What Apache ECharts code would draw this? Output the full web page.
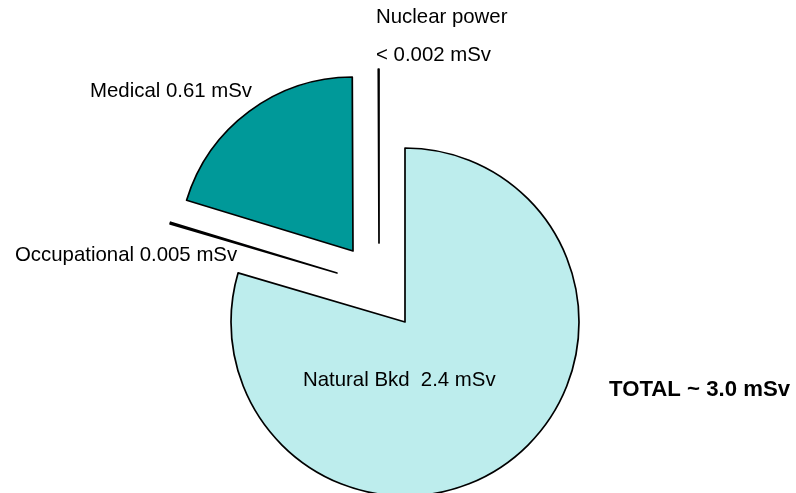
<!DOCTYPE html>
<html>
<head>
<meta charset="utf-8">
<script src="https://cdn.jsdelivr.net/npm/echarts@6/dist/echarts.min.js"></script>
<style>
html,body{margin:0;padding:0;background:#fff;}
#c{width:796px;height:493px;}
</style>
</head>
<body>
<div id="c"></div>
<script>
// Data (mSv)
var categories = ['Natural Bkd', 'Occupational', 'Medical', 'Nuclear power'];
var values = [2.4, 0.005, 0.61, 0.002];
var valueLabels = ['2.4 mSv', '0.005 mSv', '0.61 mSv', '< 0.002 mSv'];
var totalLabel = 'TOTAL ~ 3.0 mSv';

var colors = ['#BDEDED', '#2E3192', '#009999', '#FFFFFF'];
// each slice is exploded separately (layout only)
var centers = [[405, 322], [337, 273], [353, 251], [379, 243]];
var radius = 174;

var chart = echarts.init(document.getElementById('c'), null, {renderer: 'canvas'});

var series = categories.map(function (cat, k) {
  return {
    type: 'pie',
    center: centers[k],
    radius: radius,
    startAngle: 90,
    clockwise: true,
    silent: true,
    animation: false,
    avoidLabelOverlap: false,
    z: 2,
    label: {show: false},
    labelLine: {show: false},
    emphasis: {disabled: true},
    data: categories.map(function (n, i) {
      return {
        name: n,
        value: values[i],
        itemStyle: i === k
          ? {color: colors[i], borderColor: '#000', borderWidth: 1.7, borderJoin: 'round'}
          : {color: 'rgba(0,0,0,0)', borderWidth: 0}
      };
    })
  };
});

var font = '"Liberation Sans", Arial, sans-serif';
function txt(x, y, s, opts) {
  opts = opts || {};
  return {
    type: 'text', x: x, y: y, z: 100, silent: true,
    style: {
      text: s, fill: '#000', font: (opts.bold ? 'bold ' : '') + (opts.size || 20.4) + 'px ' + font,
      textAlign: 'left', textVerticalAlign: 'middle'
    }
  };
}

chart.setOption({
  backgroundColor: '#fff',
  animation: false,
  series: series,
  graphic: {
    elements: [
      txt(376, 17, categories[3]),
      txt(376, 55, valueLabels[3]),
      txt(90, 91, categories[2] + ' ' + valueLabels[2]),
      txt(15, 255, categories[1] + ' ' + valueLabels[1]),
      txt(303, 380, categories[0] + '  ' + valueLabels[0]),
      txt(609, 390, totalLabel, {bold: true, size: 22.2})
    ]
  }
});
</script>
</body>
</html>
